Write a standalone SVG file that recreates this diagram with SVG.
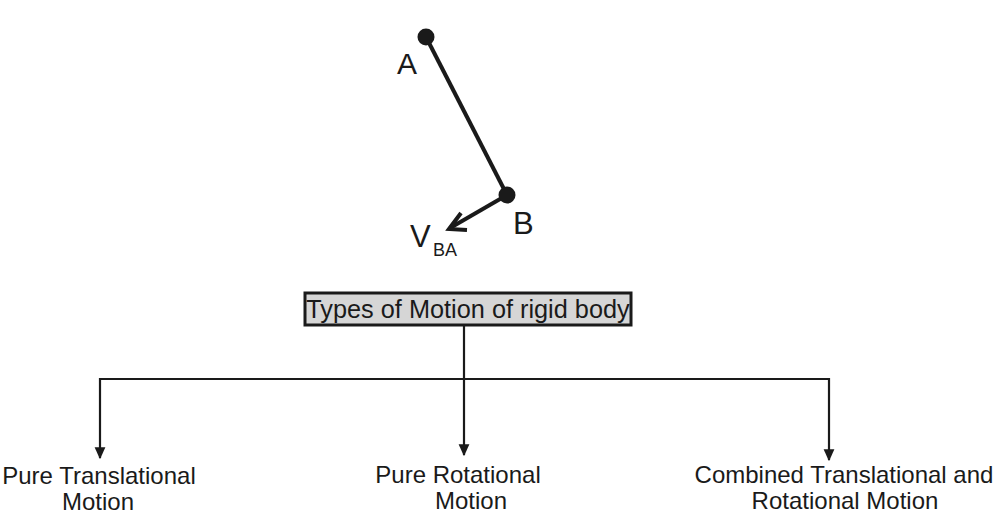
<svg xmlns="http://www.w3.org/2000/svg" width="998" height="514" viewBox="0 0 998 514">
<defs>
<style>
text{font-family:"Liberation Sans",Arial,sans-serif;fill:#1a1a1a}
.lbl{font-size:24px;text-anchor:middle}
.conn{stroke:#1a1a1a;stroke-width:2.2;fill:none}
</style>
<marker id="arr" viewBox="0 0 10 10" refX="9" refY="5" markerWidth="12" markerHeight="12" markerUnits="userSpaceOnUse" orient="auto">
<path d="M0,0.5 L10,5 L0,9.5 Z" fill="#1a1a1a"/>
</marker>
</defs>
<rect width="998" height="514" fill="#ffffff"/>
<g id="rigid-body">
<line x1="426" y1="37" x2="507" y2="195" stroke="#1a1a1a" stroke-width="4"/>
<line x1="507" y1="195" x2="450" y2="228" stroke="#1a1a1a" stroke-width="4"/>
<polyline points="461,213 449,229 467,230" fill="none" stroke="#1a1a1a" stroke-width="4" stroke-linejoin="miter"/>
<circle cx="426" cy="37" r="8.5" fill="#1a1a1a"/>
<circle cx="507" cy="195" r="8.5" fill="#1a1a1a"/>
<text x="397" y="74" font-size="30">A</text>
<text x="513" y="234" font-size="31">B</text>
<text x="410" y="247" font-size="31">V</text>
<text x="433" y="256" font-size="18">BA</text>
</g>
<g id="title">
<rect x="305" y="293" width="326" height="32" fill="#d6d6d6" stroke="#1a1a1a" stroke-width="3"/>
<text x="468" y="318" font-size="25.3" text-anchor="middle">Types of Motion of rigid body</text>
</g>
<g id="connectors">
<line class="conn" x1="464" y1="326" x2="464" y2="455" marker-end="url(#arr)"/>
<line class="conn" x1="99" y1="379" x2="830" y2="379"/>
<line class="conn" x1="100" y1="378" x2="100" y2="458" marker-end="url(#arr)"/>
<line class="conn" x1="829" y1="378" x2="829" y2="460" marker-end="url(#arr)"/>
</g>
<g id="pure-translational">
<text class="lbl" x="99" y="484" font-size="24.5">Pure Translational</text>
<text class="lbl" x="98" y="510">Motion</text>
</g>
<g id="pure-rotational">
<text class="lbl" x="458" y="483">Pure Rotational</text>
<text class="lbl" x="471" y="509">Motion</text>
</g>
<g id="combined">
<text class="lbl" x="844" y="483">Combined Translational and</text>
<text class="lbl" x="845" y="509">Rotational Motion</text>
</g>
</svg>
